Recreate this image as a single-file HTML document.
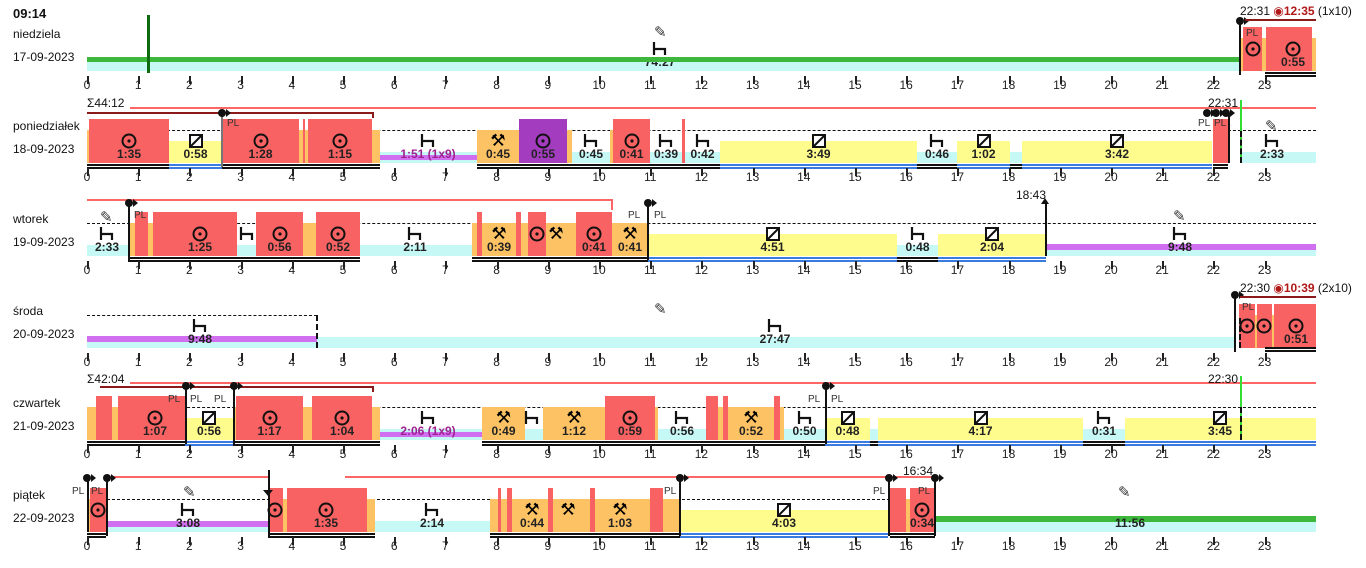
<!DOCTYPE html>
<html><head><meta charset="utf-8">
<style>
body{margin:0;width:1366px;height:568px;background:#fff;overflow:hidden;position:relative;font-family:"Liberation Sans","DejaVu Sans",sans-serif;}
#c{position:absolute;left:0;top:0;width:1366px;height:568px;}
.t{position:absolute;white-space:nowrap;font-size:12px;color:#111;}
.b{position:absolute;}
.lb{position:absolute;font-weight:bold;font-size:12px;color:#222;transform:translateX(-50%);white-space:nowrap;}
</style></head><body>
<div id="c"></div>
<script>
var C=document.getElementById('c');
function el(css,html,cls){var d=document.createElement('div');d.className=cls||'b';d.style.cssText=css;if(html)d.innerHTML=html;C.appendChild(d);return d;}
function rect(x,y,w,h,c){el('left:'+x+'px;top:'+y+'px;width:'+w+'px;height:'+h+'px;background:'+c);}
function txt(x,y,s,css){el('left:'+x+'px;top:'+y+'px;'+(css||''),s,'t');}
var COL={D:'#f86262',W:'#fcc263',A:'#fdfc8c',R:'#c6f8f6',P:'#a43cc0'};
var TOP={D:44,W:33,A:22,R:11,P:44};
var ICON={
D:'<svg width="16" height="16"><circle cx="8" cy="8" r="6.5" fill="none" stroke="#111" stroke-width="2"/><circle cx="8" cy="8" r="1.6" fill="#111"/></svg>',
A:'<svg width="16" height="16"><rect x="2" y="2" width="12" height="12" fill="#fff" stroke="#111" stroke-width="2"/><line x1="3" y1="13" x2="13" y2="3" stroke="#111" stroke-width="2"/></svg>',
W:'<span style="font-size:17px;font-weight:bold;line-height:16px;font-family:DejaVu Sans">&#9874;</span>',
R:'<svg width="16" height="16"><path d="M2 1V14M2 8H13V14" fill="none" stroke="#111" stroke-width="2.2"/></svg>'};
var PEN='<span style="font-size:15px;font-family:DejaVu Sans;color:#333">&#9998;</span>';
function icon(x,y,k){el('left:'+(x-8)+'px;top:'+y+'px;width:16px;height:16px;text-align:center;',ICON[k]);}
function row(r){
 var b=r.b;
 txt(13,b-44,r.day);txt(13,b-21,r.date);
 (r.dash||[[87,1316]]).forEach(function(d){
 el('left:'+d[0]+'px;top:'+(b-33)+'px;width:'+(d[1]-d[0])+'px;height:0;border-top:1.5px dashed #111');});
 r.s.forEach(function(s){
  var x=s[0],e=s[1],k=s[2];
  rect(x,b-TOP[k],e-x,TOP[k],COL[k]);
  if(s[5]==2){}
  else if(k=='A')el('left:'+x+'px;top:'+(b+1)+'px;width:'+(e-x)+'px;height:1px;border-top:2px solid #3a7be0;border-bottom:2px solid #3a7be0');
  else if(k!='R'||(e-x)<60&&!s[5])el('left:'+x+'px;top:'+(b+1)+'px;width:'+(e-x)+'px;height:1px;border-top:2px solid #111;border-bottom:2px solid #111');
  if(s[3]){var cx=(x+e)/2;if(s[4]!=null)cx=s[4];
   icon(cx,b-30,k=='P'?'D':k);
   el('left:'+cx+'px;top:'+(b-16)+'px;'+(s[6]||''),s[3],'lb');}
 });
 for(var h=0;h<24;h++){var x=87+h*51.2;rect(Math.round(x),b+5,1.5,8,'#222');
  el('left:'+(x-10)+'px;top:'+(b+7)+'px;width:20px;text-align:center;font-size:12px;color:#222',''+h,'t');}
}
function vline(x,y1,y2,c,w){rect(x,y1,w||2,y2-y1,c||'#111');}
function dot(x,y){el('left:'+(x-4)+'px;top:'+(y-4)+'px;width:8px;height:8px;border-radius:50%;background:#111');
 el('left:'+(x+4)+'px;top:'+(y-4)+'px;width:0;height:0;border-left:5px solid #111;border-top:4px solid transparent;border-bottom:4px solid transparent');}
function hl(x1,x2,y,c,h){rect(x1,y,x2-x1,h||2,c);}
function dvl(x,y1,y2){el('left:'+x+'px;top:'+y1+'px;width:0;height:'+(y2-y1)+'px;border-left:2px dashed #111');}
function pl(x,y){txt(x,y,'PL','font-size:10px;color:#333');}

txt(13,6,'09:14','font-weight:bold;font-size:13px');

// Row 1
row({b:71,day:'niedziela',date:'17-09-2023',dash:[[1240,1316]],s:[
[87,1240,'R','74:27',660,1],[1240,1243,'W',0,0,2],[1243,1262,'D',0,0,2],[1262,1266,'W',0,0,2],[1266,1312,'D','0:55',1293,2],[1312,1316,'W',0,0,2]]});
rect(87,57,1153,5,'#3db83d');rect(147,15,3,58,'#0e6a0e');
icon(1253,41,'D');
vline(1239,18,75);dot(1240,21);hl(1245,1316,19,'#8b1a1a');pl(1246,28);
txt(1240,4,'22:31 <b style="color:#b01818">&#9673;12:35</b> (1x10)');
el('left:654px;top:23px',PEN);
el('left:1265px;top:72px;width:51px;height:1px;border-top:2px solid #111;border-bottom:2px solid #111');

// Row 2
row({b:163,day:'poniedziałek',date:'18-09-2023',s:[
[87,89,'W'],[89,169,'D','1:35'],[169,222,'A','0:58'],[222,299,'D','1:28'],[299,303,'W'],[303,305,'D'],[305,308,'W'],[308,372,'D','1:15'],[372,380,'W'],
[380,477,'R'],[477,519,'W','0:45'],[519,567,'P','0:55'],[567,572,'W'],[572,610,'R','0:45'],[610,613,'W'],[613,650,'D','0:41'],[650,682,'R','0:39'],[682,685,'D'],[685,720,'R','0:42'],
[720,917,'A','3:49'],[917,957,'R','0:46'],[957,1010,'A','1:02'],[1010,1022,'R'],[1022,1212,'A','3:42'],[1213,1228,'D'],[1240,1316,'R','2:33',1272,1]]});
rect(380,155,97,5,'#d070f0');icon(428,133,'R');el('left:428px;top:147px;color:#a0208f','1:51 (1x9)','lb');
txt(87,96,'Σ44:12');hl(130,1316,107,'#f66');hl(87,373,112,'#8b1a1a');vline(372,112,118,'#8b1a1a');
vline(221,112,167,'#777');dot(222,113);pl(227,118);
txt(1208,96,'22:31');vline(1240,100,160,'#3d3',2);dvl(1240,131,163);
dot(1207,113);dot(1216,113);dot(1226,113);vline(1228,113,163);pl(1198,118);pl(1214,118);
el('left:1265px;top:117px',PEN);

// Row 3
row({b:256,day:'wtorek',date:'19-09-2023',s:[
[87,128,'R','2:33',107,1],[128,135,'W'],[135,148,'D'],[148,153,'W'],[153,237,'D','1:25',200],[237,256,'R'],[256,303,'D','0:56'],[303,316,'W'],[316,360,'D','0:52'],[360,472,'R','2:11',415,1],
[472,477,'W'],[477,482,'D'],[482,516,'W','0:39'],[516,521,'D'],[521,528,'W'],[528,546,'D'],[546,569,'W'],[569,576,'W'],[576,612,'D','0:41'],[612,648,'W','0:41'],
[648,897,'A','4:51'],[897,938,'R','0:48'],[938,1046,'A','2:04'],[1046,1316,'R']]});
icon(537,226,'D');icon(556,226,'W');icon(247,226,'R');
rect(1046,244,270,6,'#d070f0');icon(1180,226,'R');el('left:1180px;top:240px','9:48','lb');
el('left:1173px;top:207px',PEN);el('left:100px;top:208px',PEN);
hl(87,612,199,'#f66');vline(611,199,210,'#f66');
vline(128,203,260);dot(129,203);pl(134,210);
vline(647,203,260);dot(648,203);pl(628,210);pl(654,210);
vline(1045,203,256);txt(1016,188,'18:43');el('left:1041px;top:198px;width:0;height:0;border-bottom:6px solid #111;border-left:4px solid transparent;border-right:4px solid transparent');

// Row 4
row({b:348,day:'środa',date:'20-09-2023',dash:[[1239,1316]],s:[
[87,317,'R'],[317,1234,'R','27:47',775],[1239,1255,'D',0,0,2],[1255,1257,'W',0,0,2],[1257,1272,'D',0,0,2],[1272,1274,'W',0,0,2],[1274,1316,'D','0:51',1296,2]]});
rect(87,336,230,6,'#d070f0');icon(200,318,'R');el('left:200px;top:332px','9:48','lb');
el('left:87px;top:315px;width:230px;height:0;border-top:1.5px dashed #111');dvl(316,315,348);
el('left:654px;top:300px',PEN);
icon(1247,318,'D');icon(1264,318,'D');
vline(1234,294,352);dot(1235,295);hl(1240,1316,296,'#8b1a1a');pl(1242,302);dvl(1239,318,348);
txt(1240,281,'22:30 <b style="color:#b01818">&#9673;10:39</b> (2x10)');
el('left:1265px;top:347px;width:51px;height:1px;border-top:2px solid #111;border-bottom:2px solid #111');

// Row 5
row({b:440,day:'czwartek',date:'21-09-2023',s:[
[87,96,'W'],[96,112,'D'],[112,118,'W'],[118,126,'D'],[126,185,'D','1:07',155],[185,233,'A','0:56'],[233,236,'W'],[236,303,'D','1:17'],[303,312,'W'],[312,372,'D','1:04'],[372,380,'W'],
[380,482,'R'],[482,525,'W','0:49'],[525,543,'R'],[543,605,'W','1:12'],[605,655,'D','0:59'],[655,658,'W'],[658,706,'R','0:56'],[706,718,'D'],[718,723,'W'],[723,728,'D'],[728,774,'W','0:52'],[774,780,'D'],[780,784,'W'],[784,825,'R','0:50'],
[825,870,'A','0:48'],[870,878,'R'],[878,1083,'A','4:17'],[1083,1125,'R','0:31'],[1125,1316,'A','3:45',1220]]});
rect(380,432,102,5,'#d070f0');icon(428,410,'R');el('left:428px;top:424px;color:#a0208f','2:06 (1x9)','lb');icon(532,410,'R');
txt(87,372,'Σ42:04');hl(130,1316,382,'#f66');hl(100,373,386,'#8b1a1a');vline(372,386,392,'#8b1a1a');
vline(185,386,444);dot(186,386);pl(168,394);pl(190,394);
vline(233,386,444);dot(234,386);pl(214,394);
vline(825,386,444);dot(826,386);pl(808,394);pl(831,394);
txt(1208,372,'22:30');vline(1240,376,437,'#3d3',2);dvl(1240,407,440);

// Row 6
row({b:532,day:'piątek',date:'22-09-2023',dash:[[87,935]],s:[
[87,90,'W'],[90,106,'D','',98],[107,268,'R'],[268,283,'D'],[283,287,'W'],[287,367,'D','1:35',326],[367,375,'W'],[375,490,'R','2:14',432],
[490,498,'W'],[498,501,'D'],[501,507,'W'],[507,512,'D'],[512,548,'W','0:44',532],[548,553,'D'],[553,590,'W'],[590,595,'D'],[595,650,'W','1:03',620],[650,663,'D'],[663,680,'W'],
[680,888,'A','4:03'],[890,906,'D'],[906,910,'W'],[910,935,'D','0:34',922],[935,1316,'R']]});
icon(98,502,'D');icon(275,502,'D');icon(568,502,'W');
rect(107,521,161,6,'#d070f0');icon(188,502,'R');el('left:188px;top:516px','3:08','lb');el('left:183px;top:483px',PEN);
rect(935,516,381,6,'#3db83d');el('left:1130px;top:516px','11:56','lb');el('left:1118px;top:483px',PEN);
hl(107,268,476,'#f66');hl(345,935,476,'#f66');
vline(87,478,532);dot(87,478);pl(72,486);vline(106,478,536);dot(107,478);pl(91,486);
vline(268,470,536);el('left:263px;top:490px;width:0;height:0;border-top:6px solid #111;border-left:5px solid transparent;border-right:5px solid transparent');
vline(679,478,536);dot(680,478);pl(664,486);
vline(888,478,536);dot(889,478);pl(873,486);
vline(934,478,536);dot(935,478);pl(918,486);txt(903,464,'16:34');
</script>
</body></html>
